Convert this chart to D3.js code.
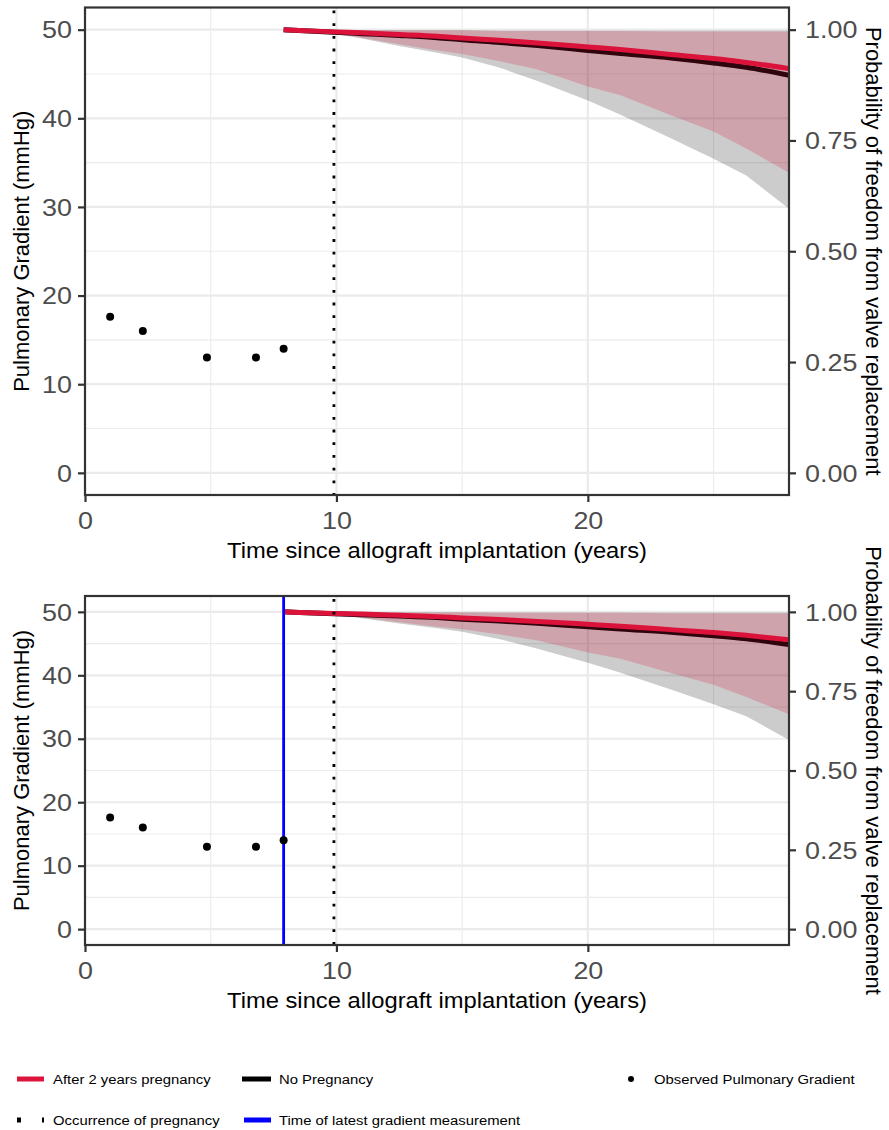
<!DOCTYPE html>
<html>
<head>
<meta charset="utf-8">
<script src="https://cdn.jsdelivr.net/npm/d3@7"></script>
<style>
  html, body { margin: 0; padding: 0; background: #fff; }
  svg { display: block; font-family: "Liberation Sans", Arial, Helvetica, sans-serif; }
</style>
</head>
<body>
<svg id="chart" width="889" height="1130"></svg>
<script>
// ---------------- data ----------------
const obsTime = [1.0, 2.3, 4.85, 6.8, 7.9];
const obsGradient = [17.6, 16.0, 13.0, 13.0, 14.0];
const latestMeasurement = 7.9;
const pregnancyTime = 9.9;

const predTime      = [7.9,   9.9,   11,    12.5,  14,    15,    16.5,  18,    20,    21.3,  23.3,  25,    26.3,  28];
const pregnancyProb = [1.000, 0.995, 0.993, 0.989, 0.985, 0.981, 0.976, 0.970, 0.961, 0.955, 0.944, 0.935, 0.926, 0.912];
const pregnancyLow  = [1.000, 0.992, 0.982, 0.967, 0.953, 0.945, 0.929, 0.910, 0.872, 0.852, 0.807, 0.770, 0.732, 0.677];
const pregnancyHigh = [1.000, 0.999, 0.998, 0.998, 0.998, 0.998, 0.997, 0.997, 0.997, 0.997, 0.996, 0.996, 0.996, 0.996];
const noPregProb    = [1.000, 0.994, 0.991, 0.987, 0.982, 0.977, 0.971, 0.964, 0.953, 0.946, 0.936, 0.925, 0.915, 0.897];
const noPregLow     = [1.000, 0.991, 0.980, 0.963, 0.948, 0.937, 0.914, 0.884, 0.840, 0.808, 0.755, 0.709, 0.671, 0.596];
const noPregHigh    = [1.000, 1.000, 0.999, 0.999, 0.999, 0.999, 0.998, 0.998, 0.998, 0.998, 0.998, 0.998, 0.998, 0.998];

const xTicks = [0, 10, 20];
const xMinor = [5, 15, 25];
const yTicks = [0, 10, 20, 30, 40, 50];
const yMinor = [5, 15, 25, 35, 45];
const probTicks = [0, 0.25, 0.5, 0.75, 1];

const xTitle = "Time since allograft implantation (years)";
const yTitle = "Pulmonary Gradient (mmHg)";
const y2Title = "Probability of freedom from valve replacement";
const legendLabels = ["After 2 years pregnancy", "No Pregnancy", "Observed Pulmonary Gradient",
                      "Occurrence of pregnancy", "Time of latest gradient measurement"];

// ---------------- drawing ----------------
const svg = d3.select("#chart");
const RED = "#dc143c";
const GRID = "#ebebeb";
const DARK = "#333333";
const TICKTXT = "#4d4d4d";
const TICK_FS = 23, TICK_SX = 1.17;

const x = d3.scaleLinear().domain([0, 28]).range([85, 789]);

// horizontal text with slight horizontal stretch (matches reference glyph widths)
function hText(g, px, py, str, fs, sx, anchor, fill) {
  return g.append("text")
    .attr("transform", `translate(${px},${py}) scale(${sx},1)`)
    .attr("text-anchor", anchor).attr("font-size", fs).attr("fill", fill || "#000")
    .text(str);
}

function panel(top, bottom, showBlue) {
  const y = d3.scaleLinear().domain([-2.5, 52.5]).range([bottom, top]);
  const yp = d3.scaleLinear().domain([-0.05, 1.05]).range([bottom, top]);
  const g = svg.append("g");
  const clipId = "clip" + Math.round(top);
  g.append("clipPath").attr("id", clipId).append("rect")
    .attr("x", x(0)).attr("y", top).attr("width", x(28) - x(0)).attr("height", bottom - top);

  const inner = g.append("g").attr("clip-path", `url(#${clipId})`);
  inner.selectAll(".hminor").data(yMinor).join("line")
    .attr("x1", x(0)).attr("x2", x(28)).attr("y1", d => y(d)).attr("y2", d => y(d))
    .attr("stroke", GRID).attr("stroke-width", 1.1);
  inner.selectAll(".vminor").data(xMinor).join("line")
    .attr("y1", top).attr("y2", bottom).attr("x1", d => x(d)).attr("x2", d => x(d))
    .attr("stroke", GRID).attr("stroke-width", 1.1);
  inner.selectAll(".hmajor").data(yTicks).join("line")
    .attr("x1", x(0)).attr("x2", x(28)).attr("y1", d => y(d)).attr("y2", d => y(d))
    .attr("stroke", GRID).attr("stroke-width", 2.2);
  inner.selectAll(".vmajor").data(xTicks).join("line")
    .attr("y1", top).attr("y2", bottom).attr("x1", d => x(d)).attr("x2", d => x(d))
    .attr("stroke", GRID).attr("stroke-width", 2.2);

  const idx = d3.range(predTime.length);
  const area = (lo, hi) => d3.area().x(i => x(predTime[i])).y0(i => yp(lo[i])).y1(i => yp(hi[i]));
  const line = (v) => d3.line().x(i => x(predTime[i])).y(i => yp(v[i])).curve(d3.curveMonotoneX);

  inner.append("path").datum(idx).attr("d", area(noPregLow, noPregHigh))
    .attr("fill", "#000").attr("fill-opacity", 0.2);
  inner.append("path").datum(idx).attr("d", line(noPregProb))
    .attr("fill", "none").attr("stroke", "#000").attr("stroke-width", 5);
  inner.append("path").datum(idx).attr("d", line(pregnancyProb))
    .attr("fill", "none").attr("stroke", RED).attr("stroke-width", 5);
  inner.append("path").datum(idx).attr("d", area(pregnancyLow, pregnancyHigh))
    .attr("fill", RED).attr("fill-opacity", 0.22);

  inner.append("line").attr("x1", x(pregnancyTime)).attr("x2", x(pregnancyTime))
    .attr("y1", top).attr("y2", bottom)
    .attr("stroke", "#000").attr("stroke-width", 2.8).attr("stroke-dasharray", "2.8 9.9")
    .attr("stroke-dashoffset", -3);
  if (showBlue) {
    inner.append("line").attr("x1", x(latestMeasurement)).attr("x2", x(latestMeasurement))
      .attr("y1", top).attr("y2", bottom)
      .attr("stroke", "#0000ff").attr("stroke-width", 2.8);
  }

  inner.selectAll(".pt").data(obsTime).join("circle")
    .attr("cx", d => x(d)).attr("cy", (d, i) => y(obsGradient[i])).attr("r", 4)
    .attr("fill", "#000");

  g.append("rect").attr("x", x(0)).attr("y", top).attr("width", x(28) - x(0)).attr("height", bottom - top)
    .attr("fill", "none").attr("stroke", DARK).attr("stroke-width", 2.2);

  const styleAxis = (a) => {
    a.select(".domain").remove();
    a.selectAll(".tick line").attr("stroke", DARK).attr("stroke-width", 2.2);
    a.selectAll(".tick text").attr("fill", TICKTXT).attr("font-size", TICK_FS)
      .style("font-family", '"Liberation Sans", Arial, sans-serif');
  };
  // bottom axis
  const ax = g.append("g").attr("transform", `translate(0,${bottom})`)
    .call(d3.axisBottom(x).tickValues(xTicks).tickSize(7).tickFormat(d3.format("d")))
    .call(styleAxis);
  ax.selectAll(".tick text").attr("y", null).attr("dy", null)
    .attr("transform", `translate(0,34) scale(${TICK_SX},1)`);
  // left axis
  const ay = g.append("g").attr("transform", `translate(${x(0)},0)`)
    .call(d3.axisLeft(y).tickValues(yTicks).tickSize(7).tickFormat(d3.format("d")))
    .call(styleAxis);
  ay.selectAll(".tick text").attr("x", null).attr("dy", null)
    .attr("transform", `translate(-13,8.2) scale(${TICK_SX},1)`);
  // right axis
  const ar = g.append("g").attr("transform", `translate(${x(28)},0)`)
    .call(d3.axisRight(yp).tickValues(probTicks).tickSize(7).tickFormat(d3.format(".2f")))
    .call(styleAxis);
  ar.selectAll(".tick text").attr("x", null).attr("dy", null)
    .attr("transform", `translate(16,8.2) scale(${TICK_SX},1)`);

  // titles
  hText(g, (x(0) + x(28)) / 2, bottom + 62.5, xTitle, 22, 1.08, "middle");
  g.append("text").attr("transform", `translate(29,${(top + bottom) / 2}) rotate(-90)`)
    .attr("text-anchor", "middle").attr("font-size", 22).attr("fill", "#000")
    .text(yTitle);
  g.append("text").attr("transform", `translate(866,${(top + bottom) / 2}) rotate(90)`)
    .attr("text-anchor", "middle").attr("font-size", 22).attr("fill", "#000")
    .text(y2Title);
}

panel(7.5, 495, false);
panel(596, 945, true);

// ---------------- legend ----------------
const lg = svg.append("g");
const row1 = 1079, row2 = 1120, LFS = 13.5, LSX = 1.1, base = 4.8;
lg.append("line").attr("x1", 17).attr("x2", 44).attr("y1", row1).attr("y2", row1)
  .attr("stroke", RED).attr("stroke-width", 5);
hText(lg, 53, row1 + base, legendLabels[0], LFS, LSX, "start");
lg.append("line").attr("x1", 242).attr("x2", 271).attr("y1", row1).attr("y2", row1)
  .attr("stroke", "#000").attr("stroke-width", 5);
hText(lg, 279, row1 + base, legendLabels[1], LFS, LSX, "start");
lg.append("circle").attr("cx", 631).attr("cy", row1).attr("r", 3).attr("fill", "#000");
hText(lg, 654, row1 + base, legendLabels[2], LFS, LSX, "start");

lg.append("line").attr("x1", 17).attr("x2", 44).attr("y1", row2).attr("y2", row2)
  .attr("stroke", "#000").attr("stroke-width", 5).attr("stroke-dasharray", "4 21");
hText(lg, 53, row2 + base, legendLabels[3], LFS, LSX, "start");
lg.append("line").attr("x1", 244).attr("x2", 271).attr("y1", row2).attr("y2", row2)
  .attr("stroke", "#0000ff").attr("stroke-width", 5);
hText(lg, 279, row2 + base, legendLabels[4], LFS, LSX, "start");
</script>
</body>
</html>
